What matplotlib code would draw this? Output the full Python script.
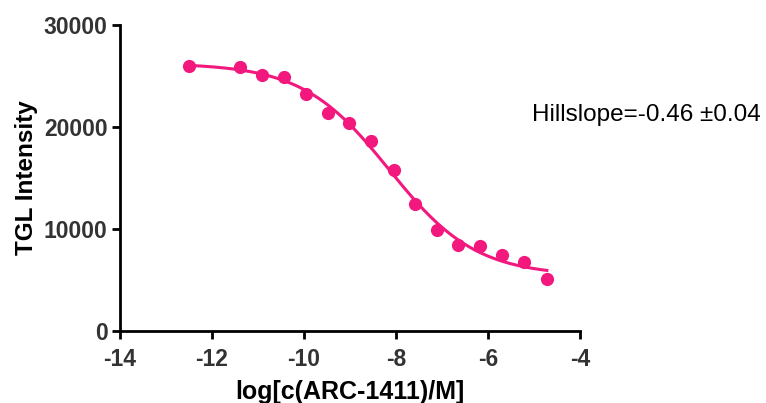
import numpy as np
import matplotlib
matplotlib.use("Agg")
import matplotlib.pyplot as plt

# data
log_conc = [-12.50, -11.39, -10.91, -10.43, -9.96, -9.48, -9.02, -8.54,
            -8.04, -7.59, -7.11, -6.65, -6.17, -5.70, -5.22, -4.72]
tgl = [25980, 25880, 25100, 24900, 23240, 21370, 20390, 18630,
       15780, 12450, 9900, 8430, 8330, 7450, 6760, 5100]

x_ticks = [-14, -12, -10, -8, -6, -4]
y_ticks = [0, 10000, 20000, 30000]
hill_text = "Hillslope=-0.46 \u00b10.04"
pink = "#F2187E"


def four_pl(x, bottom, top, logec50, hill):
    return bottom + (top - bottom) / (1 + 10 ** ((logec50 - x) * hill))


def fit_curve(x, y):
    # grid over logEC50 / hill, linear least squares for bottom/top
    x = np.asarray(x)
    y = np.asarray(y)
    best = None
    for ec in np.arange(-10, -6, 0.01):
        for h in np.arange(-0.8, -0.3, 0.005):
            f = 1 / (1 + 10 ** ((ec - x) * h))
            A = np.column_stack([1 - f, f])
            coef, *_ = np.linalg.lstsq(A, y, rcond=None)
            err = np.sum((A @ coef - y) ** 2)
            if best is None or err < best[0]:
                best = (err, coef[0], coef[1], ec, h)
    return best[1:]


bottom, top, ec50, hill = fit_curve(log_conc, tgl)

plt.rcParams['font.family'] = ['Liberation Sans', 'DejaVu Sans']
plt.rcParams['axes.unicode_minus'] = False

fig = plt.figure(figsize=(7.66, 4.03), dpi=100)
ax = fig.add_axes([120 / 766, 1 - 331 / 403, 460 / 766, 306 / 403])

xs = np.linspace(min(log_conc), max(log_conc), 300)
ax.plot(xs, four_pl(xs, bottom, top, ec50, hill), color=pink, lw=2.2, zorder=2)
ax.plot(log_conc, tgl, 'o', color=pink, ms=9.5, mec='none', zorder=3)

ax.set_xlim(-14, -4)
ax.set_ylim(0, 30000)
ax.set_xticks(x_ticks)
ax.set_yticks(y_ticks)
ax.spines['top'].set_visible(False)
ax.spines['right'].set_visible(False)
for s in ['left', 'bottom']:
    ax.spines[s].set_linewidth(2)
ax.tick_params(direction='out', length=6, width=2, labelsize=16.5,
               labelcolor='#333333')
ax.tick_params(axis='x', pad=6)
ax.tick_params(axis='y', pad=3)
for lab in ax.get_xticklabels() + ax.get_yticklabels():
    lab.set_fontweight('bold')

ax.set_xlabel("log[c(ARC-1411)/M]", fontsize=18, fontweight='bold', labelpad=7)
ax.set_ylabel("TGL Intensity", fontsize=17.5, fontweight='bold', labelpad=4)

fig.text(532 / 766, 1 - 115 / 403, hill_text, fontsize=17.5, va='center', ha='left')

fig.savefig("out.png", dpi=100)
